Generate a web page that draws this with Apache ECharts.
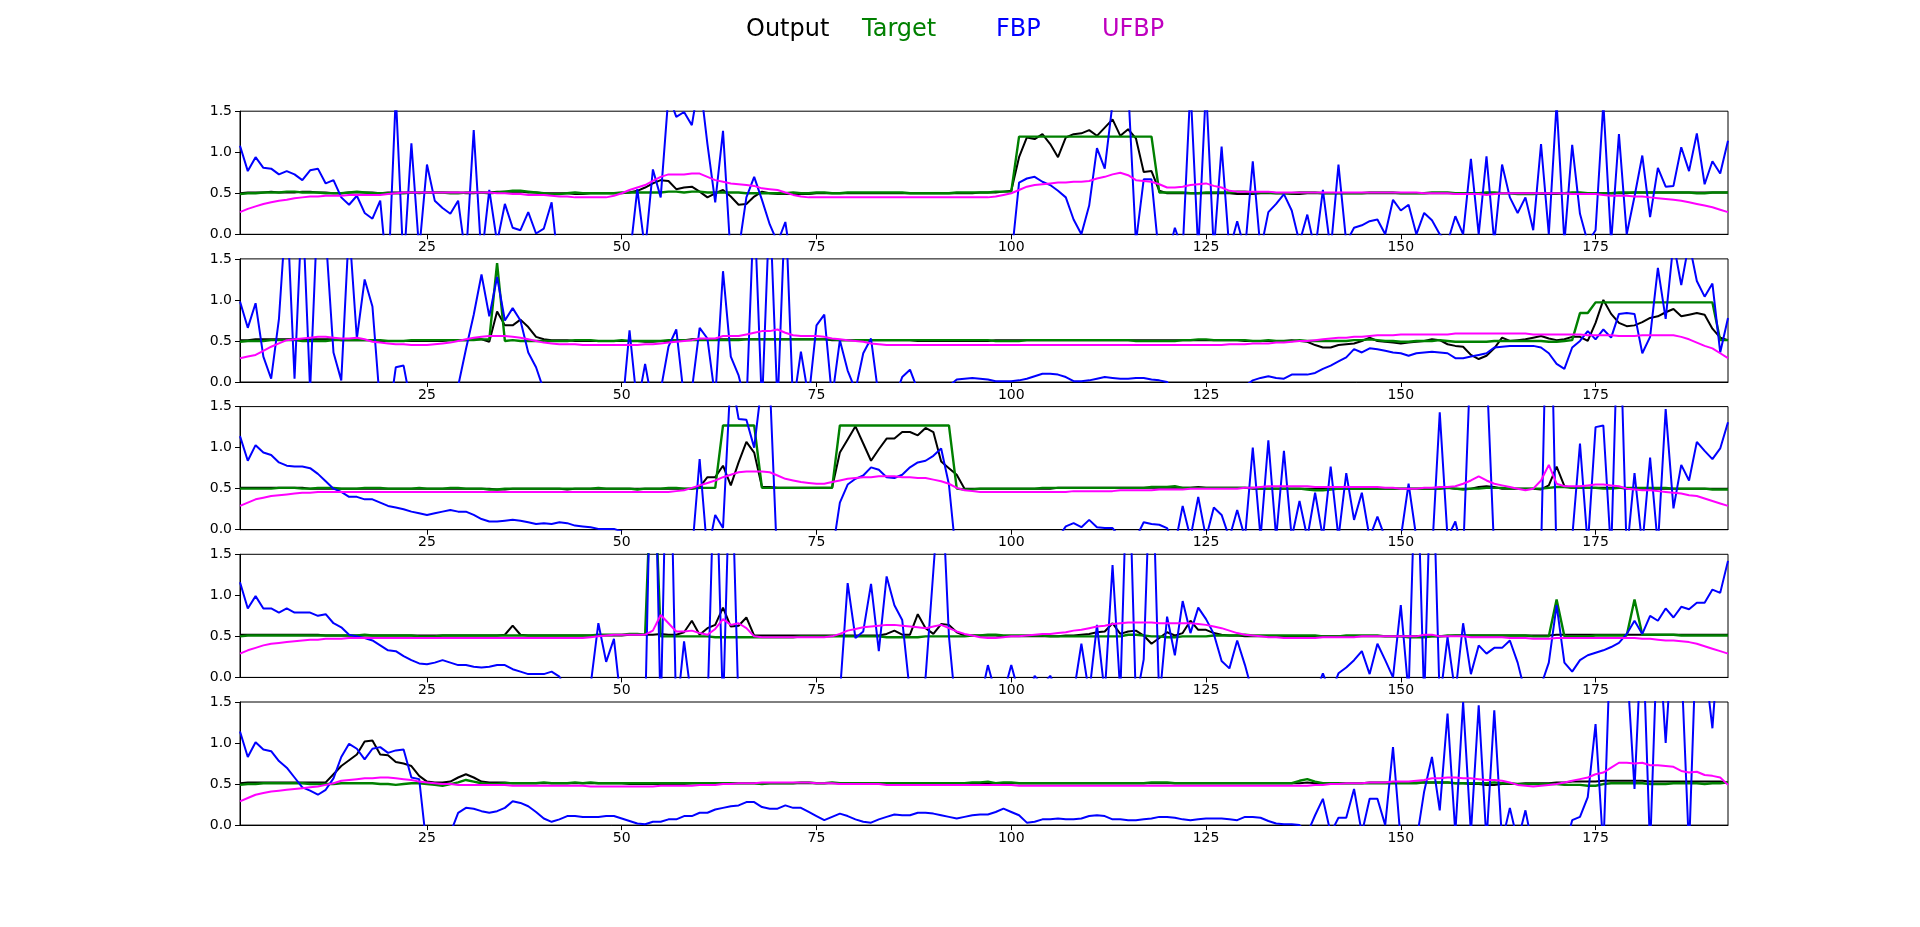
<!DOCTYPE html>
<html>
<head>
<meta charset="utf-8">
<title>Output / Target / FBP / UFBP</title>
<script src="https://cdn.jsdelivr.net/npm/echarts@6/dist/echarts.min.js"></script>
<style>
  html, body { margin: 0; padding: 0; background: #fff; }
  #chart { width: 1920px; height: 927px; }
</style>
</head>
<body>
<div id="chart"></div>
<script>
// x runs 1..192 (one value per sample), y clipped to 0..1.5
const xTicks = [25, 50, 75, 100, 125, 150, 175]
const seriesNames = ['Output', 'Target', 'FBP', 'UFBP']

// ---- panel 1 ----
const out1 = [
  .5,.51,.51,.51,.52,.51,.51,.51,.52,.52,
  .51,.51,.5,.5,.51,.51,.51,.51,.5,.51,
  .51,.51,.51,.5,.51,.51,.51,.51,.51,.5,
  .5,.51,.51,.52,.52,.52,.52,.51,.51,.5,
  .5,.5,.5,.49,.49,.5,.5,.5,.5,.5,
  .51,.53,.57,.62,.66,.65,.55,.57,.58,.52,
  .45,.5,.54,.46,.36,.37,.46,.52,.5,.49,
  .49,.49,.49,.49,.5,.5,.5,.5,.5,.5,
  .5,.5,.5,.5,.5,.5,.5,.5,.5,.5,
  .5,.5,.5,.5,.5,.51,.51,.51,.52,.53,
  .94,1.18,1.16,1.22,1.1,.94,1.18,1.22,1.23,1.27,
  1.2,1.3,1.4,1.2,1.28,1.17,.76,.77,.53,.5,
  .5,.5,.5,.5,.5,.5,.5,.5,.49,.49,
  .49,.5,.5,.5,.5,.49,.49,.5,.5,.5,
  .5,.5,.5,.5,.5,.5,.5,.5,.5,.5,
  .5,.5,.5,.5,.5,.5,.5,.5,.5,.5,
  .5,.5,.5,.5,.5,.5,.5,.49,.49,.49,
  .5,.5,.5,.5,.5,.5,.5,.5,.5,.51,
  .51,.51,.51,.51,.51,.51,.51,.51,.51,.51,
  .51,.51
]
const tgt1 = [
  .49,.5,.5,.51,.51,.51,.52,.52,.51,.51,
  .51,.5,.5,.5,.51,.52,.51,.5,.5,.5,
  .5,.5,.51,.51,.51,.51,.51,.5,.5,.51,
  .51,.51,.5,.51,.52,.53,.53,.52,.51,.5,
  .49,.49,.5,.51,.5,.5,.5,.5,.5,.51,
  .51,.51,.51,.51,.51,.52,.52,.51,.52,.52,
  .51,.51,.51,.51,.51,.5,.5,.5,.5,.5,
  .5,.51,.5,.5,.51,.51,.5,.5,.51,.51,
  .51,.51,.51,.51,.51,.51,.5,.5,.5,.5,
  .5,.5,.51,.51,.51,.51,.51,.52,.52,.52,
  1.19,1.19,1.19,1.19,1.19,1.19,1.19,1.19,1.19,1.19,
  1.19,1.19,1.19,1.19,1.19,1.19,1.19,1.19,.51,.51,
  .51,.51,.5,.5,.51,.51,.51,.51,.52,.52,
  .51,.51,.51,.5,.5,.5,.51,.51,.51,.5,
  .5,.5,.5,.5,.5,.51,.51,.51,.51,.5,
  .5,.5,.5,.51,.51,.51,.5,.5,.5,.5,
  .51,.51,.5,.5,.49,.49,.49,.5,.5,.5,
  .5,.51,.51,.5,.5,.5,.5,.51,.51,.51,
  .51,.51,.51,.51,.51,.51,.51,.5,.5,.51,
  .51,.51
]
const fbp1 = [
  1.08,.77,.94,.81,.8,.73,.77,.73,.66,.78,
  .8,.62,.66,.45,.36,.47,.26,.19,.41,-.6,
  1.7,-.4,1.11,-.2,.85,.41,.32,.25,.41,-.3,
  1.27,-.3,.54,-.1,.37,.08,.05,.27,.01,.07,
  .39,-.5,-.6,-.6,-.6,-.6,-.6,-.6,-.6,-.5,
  -.3,.55,-.2,.79,.45,1.7,1.43,1.49,1.33,1.9,
  1.1,.39,1.26,-.3,-.2,.45,.7,.42,.12,-.1,
  .15,-.5,-.6,-.6,-.6,-.6,-.6,-.6,-.6,-.6,
  -.6,-.6,-.6,-.6,-.6,-.6,-.6,-.6,-.6,-.6,
  -.6,-.6,-.6,-.6,-.6,-.6,-.6,-.5,-.5,-.3,
  .63,.68,.7,.64,.6,.53,.45,.18,0,.35,
  1.05,.8,1.6,1.7,1.8,-.1,.67,.67,-.3,-.3,
  .08,-.2,1.8,-.2,1.8,-.2,1.07,-.2,.16,-.2,
  .89,-.2,.27,.37,.49,.29,-.1,.24,-.2,.54,
  -.2,.85,-.1,.08,.11,.16,.18,0,.42,.29,
  .36,0,.26,.17,0,-.1,.22,0,.92,0,
  .95,-.1,.85,.45,.26,.45,.05,1.1,0,1.6,
  -.1,1.09,.25,-.1,.05,1.6,-.1,1.22,0,.46,
  .96,.21,.81,.58,.59,1.06,.77,1.23,.61,.89,
  .74,1.14
]
const ufbp1 = [
  .27,.31,.34,.37,.39,.41,.42,.44,.45,.46,
  .46,.47,.47,.47,.48,.48,.48,.48,.48,.49,
  .5,.51,.51,.51,.51,.51,.51,.51,.51,.51,
  .51,.51,.51,.5,.5,.49,.49,.48,.48,.48,
  .47,.46,.46,.45,.45,.45,.45,.45,.47,.5,
  .54,.57,.6,.65,.7,.73,.73,.73,.74,.74,
  .7,.66,.64,.62,.61,.6,.59,.56,.55,.54,
  .51,.48,.46,.45,.45,.45,.45,.45,.45,.45,
  .45,.45,.45,.45,.45,.45,.45,.45,.45,.45,
  .45,.45,.45,.45,.45,.45,.45,.46,.48,.5,
  .54,.58,.6,.61,.62,.63,.63,.64,.64,.65,
  .68,.7,.73,.75,.72,.66,.65,.64,.61,.57,
  .57,.58,.6,.61,.62,.59,.57,.53,.52,.52,
  .52,.52,.52,.51,.51,.51,.51,.51,.51,.51,
  .51,.51,.51,.51,.51,.51,.51,.51,.51,.51,
  .51,.51,.5,.5,.5,.5,.49,.49,.49,.49,
  .48,.49,.5,.5,.5,.5,.5,.5,.5,.5,
  .5,.49,.49,.49,.49,.48,.47,.47,.47,.46,
  .46,.45,.44,.43,.42,.41,.39,.37,.35,.33,
  .3,.27
]

// ---- panel 2 ----
const out2 = [
  .51,.51,.52,.52,.52,.52,.52,.52,.52,.52,
  .52,.52,.52,.51,.51,.51,.51,.51,.5,.5,
  .5,.5,.5,.5,.5,.5,.5,.51,.51,.51,
  .52,.52,.49,.86,.69,.69,.76,.67,.55,.52,
  .51,.51,.51,.5,.5,.5,.5,.5,.5,.5,
  .5,.5,.49,.49,.5,.5,.51,.51,.52,.52,
  .52,.52,.52,.52,.52,.52,.52,.52,.52,.52,
  .52,.52,.52,.52,.52,.52,.51,.51,.51,.51,
  .51,.51,.51,.51,.51,.51,.51,.5,.5,.5,
  .5,.5,.5,.5,.5,.5,.5,.51,.51,.51,
  .51,.51,.51,.51,.51,.51,.51,.51,.51,.51,
  .51,.51,.51,.51,.51,.51,.51,.51,.51,.51,
  .51,.51,.51,.51,.51,.51,.51,.51,.51,.5,
  .5,.5,.5,.5,.5,.51,.5,.49,.45,.42,
  .42,.45,.46,.47,.5,.54,.5,.49,.48,.47,
  .48,.49,.5,.52,.51,.46,.44,.43,.33,.28,
  .32,.41,.54,.5,.51,.52,.54,.56,.53,.51,
  .52,.55,.55,.5,.72,1.0,.83,.72,.68,.69,
  .73,.78,.8,.85,.89,.8,.82,.84,.82,.65,
  .54,.51
]
const tgt2 = [
  .49,.5,.5,.5,.51,.51,.51,.51,.5,.5,
  .5,.5,.51,.51,.51,.51,.51,.51,.51,.5,
  .5,.5,.51,.51,.51,.51,.51,.51,.51,.51,
  .51,.52,.52,1.45,.5,.51,.5,.5,.5,.5,
  .5,.5,.5,.51,.51,.51,.5,.5,.5,.51,
  .5,.5,.5,.5,.5,.51,.51,.51,.51,.51,
  .51,.51,.51,.51,.51,.52,.52,.52,.52,.52,
  .52,.52,.52,.52,.52,.52,.52,.51,.51,.51,
  .51,.51,.51,.51,.51,.51,.51,.51,.51,.51,
  .51,.51,.51,.51,.51,.51,.51,.5,.5,.5,
  .5,.51,.51,.51,.51,.51,.51,.51,.51,.51,
  .51,.51,.51,.51,.51,.5,.5,.5,.5,.5,
  .5,.51,.51,.52,.52,.51,.51,.51,.51,.51,
  .5,.5,.51,.5,.5,.5,.51,.5,.5,.5,
  .5,.5,.5,.51,.51,.52,.51,.5,.5,.49,
  .49,.5,.5,.5,.51,.5,.49,.49,.49,.49,
  .49,.5,.5,.5,.5,.5,.5,.5,.49,.49,
  .5,.51,.84,.84,.97,.97,.97,.97,.97,.97,
  .97,.97,.97,.97,.97,.97,.97,.97,.97,.97,
  .51,.51
]
const fbp2 = [
  .98,.66,.96,.31,.04,.77,2.2,.04,2.2,-.1,
  2.2,1.8,.36,.02,1.9,.53,1.25,.92,-.3,-.5,
  .18,.2,-.3,-.6,-.6,-.6,-.6,-.5,-.05,.4,
  .82,1.31,.8,1.28,.75,.9,.75,.36,.18,-.1,
  -.5,-.6,-.6,-.6,-.6,-.6,-.6,-.6,-.6,-.4,
  .63,-.3,.22,-.3,-.1,.43,.64,-.2,-.1,.66,
  .53,-.2,1.35,.31,.08,-.3,2.2,-.3,2.2,-.3,
  2.2,-.3,.37,-.2,.69,.82,-.2,.51,.14,-.1,
  .35,.53,-.2,-.5,-.2,.06,.15,-.1,-.3,-.3,
  -.2,-.05,.03,.04,.05,.04,.03,.01,.01,.01,
  .02,.04,.07,.1,.1,.09,.06,.01,.01,.02,
  .04,.06,.05,.04,.04,.05,.05,.03,.02,0,
  -.2,-.3,-.3,-.3,-.3,-.3,-.3,-.3,-.2,-.05,
  .02,.05,.07,.05,.04,.09,.09,.09,.11,.16,
  .2,.25,.3,.4,.36,.41,.4,.38,.36,.35,
  .32,.35,.36,.37,.36,.35,.29,.29,.31,.33,
  .35,.42,.43,.44,.44,.44,.44,.42,.35,.22,
  .16,.42,.5,.62,.52,.64,.54,.83,.84,.83,
  .35,.55,1.39,.77,1.7,1.18,1.7,1.23,1.04,1.2,
  .36,.78
]
const ufbp2 = [
  .29,.31,.33,.38,.43,.47,.51,.52,.53,.54,
  .55,.55,.54,.53,.53,.54,.52,.49,.48,.47,
  .46,.46,.45,.45,.45,.46,.47,.48,.5,.52,
  .54,.55,.56,.56,.56,.55,.54,.52,.5,.48,
  .47,.46,.46,.46,.45,.45,.45,.45,.45,.45,
  .45,.45,.46,.46,.47,.48,.49,.5,.51,.53,
  .53,.53,.56,.56,.56,.58,.6,.62,.62,.64,
  .6,.57,.56,.56,.56,.55,.53,.52,.51,.5,
  .49,.47,.46,.45,.45,.45,.45,.45,.45,.45,
  .45,.45,.45,.45,.45,.45,.45,.45,.45,.45,
  .45,.45,.45,.45,.45,.45,.45,.45,.45,.45,
  .45,.45,.45,.45,.45,.45,.45,.45,.45,.45,
  .45,.45,.45,.45,.45,.45,.45,.46,.46,.46,
  .47,.47,.47,.48,.48,.49,.5,.5,.51,.52,
  .53,.54,.54,.55,.55,.56,.57,.57,.57,.58,
  .58,.58,.58,.58,.58,.58,.59,.59,.59,.59,
  .59,.59,.59,.59,.59,.59,.58,.58,.58,.58,
  .58,.58,.58,.57,.57,.57,.57,.56,.56,.56,
  .57,.57,.57,.57,.57,.55,.52,.48,.44,.41,
  .35,.29
]

// ---- panel 3 ----
const out3 = [
  .51,.51,.51,.51,.51,.51,.51,.51,.51,.5,
  .5,.5,.5,.5,.5,.5,.5,.5,.5,.5,
  .5,.5,.5,.5,.5,.5,.5,.5,.5,.5,
  .5,.5,.5,.49,.49,.5,.5,.5,.5,.5,
  .5,.5,.49,.5,.5,.5,.5,.5,.5,.5,
  .5,.5,.5,.5,.5,.5,.5,.5,.5,.52,
  .64,.64,.78,.54,.82,1.07,.94,.52,.52,.51,
  .51,.51,.51,.51,.51,.51,.51,.94,1.1,1.26,
  1.05,.84,.98,1.11,1.11,1.19,1.19,1.15,1.24,1.19,
  .83,.75,.67,.5,.5,.5,.5,.5,.5,.5,
  .5,.5,.5,.5,.5,.51,.51,.51,.51,.51,
  .51,.51,.51,.51,.51,.51,.51,.51,.51,.51,
  .51,.51,.51,.52,.51,.51,.51,.51,.51,.51,
  .5,.5,.5,.5,.5,.5,.5,.5,.5,.5,
  .5,.5,.5,.5,.5,.5,.5,.5,.5,.5,
  .5,.5,.5,.5,.5,.51,.5,.5,.5,.52,
  .53,.52,.5,.5,.5,.5,.5,.49,.54,.77,
  .53,.51,.51,.51,.51,.51,.51,.51,.5,.5,
  .5,.5,.5,.5,.5,.5,.5,.5,.5,.5,
  .5,.5
]
const tgt3 = [
  .5,.5,.5,.5,.5,.51,.51,.51,.5,.5,
  .51,.51,.51,.5,.5,.5,.51,.51,.51,.5,
  .5,.5,.5,.51,.5,.5,.5,.51,.51,.5,
  .5,.5,.49,.49,.5,.5,.5,.5,.5,.5,
  .5,.5,.5,.5,.5,.5,.51,.5,.5,.5,
  .5,.49,.5,.5,.5,.51,.51,.5,.5,.51,
  .51,.51,1.27,1.27,1.27,1.27,1.27,.51,.51,.51,
  .51,.51,.51,.51,.51,.51,.51,1.27,1.27,1.27,
  1.27,1.27,1.27,1.27,1.27,1.27,1.27,1.27,1.27,1.27,
  1.27,1.27,.5,.49,.49,.5,.5,.5,.5,.5,
  .5,.5,.5,.51,.51,.51,.51,.51,.51,.51,
  .51,.51,.51,.51,.51,.51,.51,.52,.52,.52,
  .53,.51,.51,.51,.51,.51,.51,.51,.51,.51,
  .51,.5,.5,.5,.5,.5,.5,.49,.48,.48,
  .49,.5,.5,.5,.5,.5,.5,.5,.5,.5,
  .5,.5,.5,.5,.5,.51,.5,.49,.5,.5,
  .51,.51,.51,.5,.5,.5,.5,.5,.51,.52,
  .52,.51,.51,.51,.51,.5,.5,.51,.51,.51,
  .51,.51,.51,.51,.5,.5,.5,.5,.5,.49,
  .49,.49
]
const fbp3 = [
  1.14,.84,1.03,.94,.91,.82,.78,.77,.77,.75,
  .68,.59,.5,.46,.4,.4,.37,.37,.33,.29,
  .27,.25,.22,.2,.18,.2,.22,.24,.22,.22,
  .18,.13,.1,.1,.11,.12,.11,.09,.07,.08,
  .07,.09,.08,.05,.04,.03,.01,.01,.01,-.02,
  -.3,-.5,-.6,-.6,-.6,-.6,-.6,-.5,-.3,.86,
  -.3,.18,.02,1.9,1.35,1.34,1.0,1.8,1.8,-.5,
  -.6,-.6,-.6,-.6,-.6,-.6,-.3,.33,.55,.62,
  .66,.76,.73,.64,.63,.67,.76,.82,.84,.9,
  .99,.55,-.4,-.6,-.6,-.6,-.6,-.6,-.6,-.6,
  -.6,-.6,-.6,-.5,-.2,-.1,.04,.08,.03,.12,
  .03,.02,.02,-.1,-.2,-.1,.09,.07,.06,.02,
  -.2,.29,-.1,.4,-.1,.27,.18,-.1,.24,-.1,
  1.0,-.1,1.09,-.1,.96,-.1,.35,-.1,.45,-.1,
  .77,-.1,.69,.12,.45,-.1,.16,-.1,-.3,-.1,
  .56,-.1,-.4,-.3,1.43,-.1,.1,-.3,2.2,2.4,
  2.0,-.3,-.5,-.5,-.5,-.5,-.5,-.3,4,-.4,
  -.3,-.1,1.05,-.2,1.25,1.27,-.3,3,-.3,.69,
  -.2,.88,-.2,1.47,.26,.79,.6,1.07,.96,.86,
  .99,1.31
]
const ufbp3 = [
  .29,.33,.37,.39,.41,.42,.43,.44,.45,.45,
  .46,.46,.46,.46,.46,.46,.46,.46,.46,.46,
  .46,.46,.46,.46,.46,.46,.46,.46,.46,.46,
  .46,.46,.46,.46,.46,.46,.46,.46,.46,.46,
  .46,.46,.46,.46,.46,.46,.46,.46,.46,.46,
  .46,.46,.46,.46,.46,.46,.47,.48,.51,.54,
  .57,.6,.64,.67,.7,.71,.71,.71,.7,.66,
  .62,.6,.58,.57,.56,.56,.58,.6,.62,.63,
  .64,.64,.65,.65,.65,.64,.64,.63,.63,.61,
  .59,.56,.51,.48,.47,.46,.46,.46,.46,.46,
  .46,.46,.46,.46,.46,.46,.46,.47,.47,.47,
  .47,.47,.47,.48,.48,.48,.48,.48,.49,.49,
  .49,.49,.5,.5,.5,.5,.5,.5,.5,.51,
  .51,.52,.53,.53,.53,.53,.53,.53,.52,.52,
  .52,.52,.52,.52,.52,.52,.52,.51,.51,.5,
  .5,.5,.51,.51,.52,.52,.53,.56,.6,.65,
  .6,.56,.54,.52,.5,.48,.5,.6,.79,.56,
  .53,.53,.53,.54,.55,.55,.54,.53,.5,.49,
  .48,.48,.47,.46,.45,.44,.42,.41,.38,.35,
  .32,.29
]

// ---- panel 4 ----
const out4 = [
  .52,.52,.52,.52,.52,.52,.52,.52,.52,.52,
  .52,.51,.51,.51,.51,.51,.51,.51,.51,.51,
  .51,.51,.51,.51,.51,.51,.51,.51,.51,.51,
  .51,.51,.51,.51,.52,.63,.52,.51,.51,.51,
  .51,.51,.51,.51,.51,.51,.51,.51,.51,.51,
  .52,.52,.52,.52,.53,.52,.52,.55,.69,.52,
  .6,.64,.85,.62,.63,.73,.51,.51,.51,.51,
  .51,.51,.51,.51,.51,.51,.51,.51,.51,.51,
  .51,.51,.51,.53,.57,.52,.52,.77,.6,.53,
  .65,.64,.55,.51,.51,.51,.51,.51,.5,.5,
  .5,.5,.5,.5,.5,.5,.51,.51,.52,.53,
  .55,.56,.66,.53,.56,.57,.51,.41,.48,.55,
  .51,.54,.69,.58,.58,.54,.52,.51,.51,.5,
  .5,.5,.5,.5,.5,.5,.5,.5,.5,.5,
  .5,.5,.5,.5,.5,.5,.5,.5,.5,.5,
  .5,.5,.5,.5,.5,.5,.51,.51,.51,.51,
  .51,.51,.51,.51,.51,.51,.51,.51,.51,.52,
  .52,.52,.52,.52,.52,.52,.52,.52,.52,.52,
  .52,.52,.52,.52,.52,.52,.52,.52,.52,.52,
  .52,.52
]
const tgt4 = [
  .5,.51,.51,.51,.51,.51,.51,.51,.51,.51,
  .51,.51,.51,.51,.51,.51,.52,.51,.51,.51,
  .51,.51,.51,.5,.5,.5,.51,.51,.51,.51,
  .51,.51,.51,.51,.51,.51,.51,.51,.51,.51,
  .51,.51,.51,.51,.51,.51,.52,.52,.52,.52,
  .53,.53,.52,3,.5,.5,.5,.5,.5,.5,
  .5,.49,.49,.49,.49,.49,.49,.49,.49,.49,
  .49,.49,.5,.5,.5,.5,.5,.5,.5,.5,
  .5,.5,.5,.49,.49,.49,.49,.49,.5,.5,
  .5,.5,.5,.5,.51,.51,.52,.52,.51,.51,
  .51,.51,.51,.51,.5,.5,.5,.5,.5,.5,
  .5,.5,.5,.5,.52,.52,.51,.5,.5,.49,
  .49,.5,.5,.5,.5,.51,.51,.51,.51,.52,
  .51,.51,.51,.51,.51,.51,.51,.51,.51,.5,
  .5,.5,.51,.51,.51,.51,.51,.5,.5,.5,
  .49,.49,.49,.5,.5,.51,.51,.51,.51,.51,
  .51,.51,.51,.51,.51,.51,.5,.5,.5,.95,
  .5,.5,.5,.5,.51,.51,.51,.51,.51,.95,
  .52,.52,.52,.52,.52,.51,.51,.51,.51,.51,
  .51,.51
]
const fbp4 = [
  1.16,.84,.99,.84,.84,.79,.84,.79,.79,.79,
  .75,.77,.66,.61,.52,.5,.48,.45,.39,.33,
  .32,.26,.21,.17,.16,.18,.21,.18,.15,.15,
  .13,.12,.13,.15,.15,.1,.07,.04,.04,.04,
  .07,.01,-.2,-.4,-.5,-.1,.66,.19,.47,-.4,
  -.6,-.6,-.5,4,-.5,4,-.5,.44,-.3,-.5,
  -.4,3,-.4,3,-.4,-.6,-.6,-.6,-.6,-.6,
  -.6,-.6,-.6,-.6,-.6,-.6,-.6,-.2,1.15,.48,
  .56,1.14,.32,1.23,.88,.7,-.2,-.5,0,1.3,
  2.6,.5,-.5,-.5,-.5,-.3,.15,-.2,-.2,.15,
  -.2,-.3,.02,-.1,.02,-.2,-.1,-.2,.41,-.2,
  .64,-.2,1.37,-.2,3,-.3,.22,3,-.3,.74,
  .27,.93,.54,.85,.71,.53,.2,.11,.45,.15,
  -.2,-.5,-.5,-.5,-.5,-.5,-.5,-.5,-.2,.05,
  -.2,.05,.12,.21,.32,.04,.41,.21,0,.88,
  -.2,3,-.3,3,-.3,.49,-.2,.66,.04,.39,
  .29,.36,.36,.45,.18,-.2,-.3,-.1,.18,.88,
  .18,.07,.21,.27,.3,.33,.37,.42,.53,.69,
  .53,.75,.69,.84,.73,.86,.83,.91,.91,1.07,
  1.03,1.42
]
const ufbp4 = [
  .29,.33,.36,.39,.41,.42,.43,.44,.45,.46,
  .46,.47,.47,.47,.48,.48,.48,.48,.48,.48,
  .48,.48,.48,.48,.48,.48,.48,.48,.48,.48,
  .48,.48,.48,.48,.48,.48,.48,.48,.48,.48,
  .48,.48,.48,.48,.48,.49,.5,.51,.52,.52,
  .52,.52,.52,.57,.76,.66,.56,.56,.57,.54,
  .52,.59,.71,.64,.66,.6,.5,.49,.49,.49,
  .49,.49,.49,.49,.49,.49,.5,.53,.57,.59,
  .61,.62,.63,.64,.64,.63,.62,.61,.6,.62,
  .64,.6,.56,.53,.51,.49,.48,.48,.49,.5,
  .5,.51,.52,.53,.53,.54,.55,.57,.58,.6,
  .62,.63,.65,.66,.67,.67,.67,.67,.66,.66,
  .66,.66,.66,.65,.64,.62,.6,.57,.54,.52,
  .51,.5,.49,.49,.48,.48,.48,.48,.48,.49,
  .49,.49,.49,.49,.5,.5,.5,.5,.5,.5,
  .5,.5,.52,.52,.5,.5,.5,.5,.49,.49,
  .49,.49,.49,.48,.48,.48,.47,.47,.47,.48,
  .48,.48,.48,.48,.48,.48,.48,.48,.48,.48,
  .47,.47,.46,.45,.45,.44,.43,.41,.38,.35,
  .32,.29
]

// ---- panel 5 ----
const out5 = [
  .51,.52,.52,.52,.52,.52,.52,.52,.52,.52,
  .52,.52,.62,.72,.79,.86,1.02,1.03,.86,.85,
  .77,.75,.72,.6,.53,.52,.52,.53,.58,.62,
  .58,.53,.52,.52,.52,.51,.51,.51,.51,.51,
  .51,.51,.51,.51,.51,.51,.51,.51,.51,.51,
  .5,.5,.5,.5,.5,.5,.5,.5,.51,.51,
  .51,.51,.51,.51,.51,.51,.51,.51,.51,.51,
  .51,.51,.51,.51,.51,.51,.51,.51,.51,.51,
  .51,.51,.51,.51,.51,.51,.51,.51,.51,.51,
  .51,.51,.51,.51,.51,.51,.51,.51,.51,.51,
  .51,.51,.51,.51,.51,.51,.51,.51,.51,.51,
  .51,.51,.51,.51,.51,.51,.51,.51,.51,.51,
  .51,.51,.51,.51,.51,.51,.51,.51,.51,.51,
  .51,.51,.51,.51,.51,.51,.51,.52,.51,.51,
  .51,.51,.51,.51,.51,.52,.52,.52,.52,.52,
  .52,.52,.52,.52,.52,.52,.51,.51,.5,.5,
  .49,.49,.5,.5,.5,.51,.51,.51,.51,.52,
  .52,.53,.53,.53,.53,.54,.54,.54,.54,.54,
  .54,.53,.53,.53,.53,.53,.53,.53,.53,.53,
  .53,.52
]
const tgt5 = [
  .49,.5,.5,.51,.51,.51,.51,.51,.51,.5,
  .5,.5,.5,.51,.51,.51,.51,.51,.5,.5,
  .49,.5,.51,.51,.5,.49,.48,.5,.52,.55,
  .53,.51,.5,.5,.51,.51,.51,.51,.51,.52,
  .51,.51,.51,.52,.51,.52,.51,.51,.51,.51,
  .51,.51,.51,.51,.51,.51,.51,.51,.51,.51,
  .51,.51,.51,.51,.51,.51,.51,.5,.51,.51,
  .51,.51,.52,.52,.51,.51,.52,.51,.51,.51,
  .51,.51,.51,.51,.51,.51,.51,.51,.51,.51,
  .51,.51,.51,.51,.52,.52,.53,.51,.52,.52,
  .51,.51,.51,.51,.51,.51,.51,.51,.51,.51,
  .51,.51,.51,.51,.51,.51,.51,.52,.52,.52,
  .51,.51,.51,.51,.51,.51,.51,.51,.51,.51,
  .51,.51,.51,.51,.51,.51,.54,.56,.53,.51,
  .51,.51,.51,.51,.51,.51,.51,.51,.51,.51,
  .51,.51,.52,.52,.52,.52,.51,.51,.51,.51,
  .51,.52,.51,.51,.5,.5,.5,.5,.5,.5,
  .49,.49,.49,.48,.48,.5,.51,.51,.51,.51,
  .51,.5,.5,.5,.51,.51,.51,.51,.5,.51,
  .51,.52
]
const fbp5 = [
  1.14,.83,1.01,.92,.9,.78,.7,.58,.46,.42,
  .37,.43,.57,.83,.99,.93,.8,.93,.95,.88,
  .91,.92,.58,.56,-.3,-.5,-.5,-.1,.15,.21,
  .2,.17,.15,.17,.21,.29,.27,.23,.16,.08,
  .04,.07,.11,.11,.1,.1,.1,.11,.11,.08,
  .05,.02,.01,.04,.04,.07,.07,.11,.11,.15,
  .15,.19,.21,.23,.24,.28,.28,.22,.2,.2,
  .24,.21,.21,.16,.11,.06,.1,.14,.11,.07,
  .04,.03,.07,.1,.13,.12,.12,.15,.15,.14,
  .12,.1,.08,.1,.12,.13,.13,.16,.2,.16,
  .12,.03,.04,.07,.07,.08,.07,.07,.08,.11,
  .12,.11,.07,.07,.06,.06,.07,.08,.1,.1,
  .09,.07,.06,.07,.08,.08,.08,.07,.06,.1,
  .1,.09,.05,.02,.01,.01,0,-.1,.12,.32,
  -.1,.09,.09,.44,-.1,.32,.32,0,.95,-.2,
  -.4,-.2,.41,.83,.18,1.36,-.1,1.5,-.1,1.46,
  -.2,1.4,-.2,.21,-.2,.18,-.3,-.5,-.5,-.5,
  -.3,.06,.1,.34,1.23,-.3,2.5,2.5,2.0,.44,
  2.5,-.3,2.5,1.0,2.5,2.0,-.3,2.5,2.0,1.18,
  2.5,2.5
]
const ufbp5 = [
  .29,.33,.37,.39,.41,.42,.43,.44,.45,.46,
  .47,.49,.51,.54,.55,.56,.57,.57,.58,.58,
  .57,.56,.55,.53,.52,.51,.5,.5,.49,.49,
  .49,.49,.49,.49,.49,.48,.48,.48,.48,.48,
  .48,.48,.48,.48,.48,.47,.47,.47,.47,.47,
  .47,.47,.47,.47,.48,.48,.48,.48,.48,.49,
  .49,.49,.5,.5,.51,.51,.51,.52,.52,.52,
  .52,.52,.52,.52,.51,.51,.51,.5,.5,.5,
  .5,.5,.5,.49,.49,.49,.49,.49,.49,.49,
  .49,.49,.49,.49,.49,.49,.49,.49,.49,.49,
  .48,.48,.48,.48,.48,.48,.48,.48,.48,.48,
  .48,.48,.48,.48,.48,.48,.48,.48,.48,.48,
  .48,.48,.48,.48,.48,.48,.48,.48,.48,.48,
  .48,.48,.48,.48,.48,.48,.48,.48,.49,.49,
  .5,.5,.51,.51,.51,.52,.52,.52,.53,.53,
  .53,.54,.55,.57,.57,.58,.58,.57,.57,.56,
  .55,.55,.54,.52,.49,.48,.47,.48,.49,.5,
  .52,.54,.56,.58,.62,.64,.7,.76,.76,.75,
  .76,.73,.73,.72,.71,.66,.64,.65,.61,.6,
  .58,.49
]

const panels = [
  [out1, tgt1, fbp1, ufbp1],
  [out2, tgt2, fbp2, ufbp2],
  [out3, tgt3, fbp3, ufbp3],
  [out4, tgt4, fbp4, ufbp4],
  [out5, tgt5, fbp5, ufbp5]
]
panels.forEach((p, i) => p.forEach((arr, k) => {
  if (arr.length !== 192) throw new Error('panel ' + (i + 1) + ' ' + seriesNames[k] + ' has ' + arr.length)
}))

const lineColors = ['#000000', '#008000', '#0000ff', '#ff00ff']
const legendColors = ['#000000', '#008000', '#0000ff', '#bf00bf']
const lineWidths = [2, 2.4, 2, 2]
const legendLeft = [735, 851, 985, 1091]

// five stacked axes, same spacing as a 5x1 subplot grid
const plotTop = 111.2
const plotH = 123.1
const plotStep = 147.7
const font = 'DejaVu Sans'

const chart = echarts.init(document.getElementById('chart'))

const grids = panels.map((p, i) => ({
  left: 240,
  width: 1488,
  top: plotTop + i * plotStep,
  height: plotH,
  show: true,
  borderColor: '#000',
  borderWidth: 1,
  backgroundColor: 'transparent'
}))

const xAxes = panels.map((p, i) => ({
  type: 'value',
  gridIndex: i,
  min: 1,
  max: 192,
  axisLine: { show: true, onZero: false, lineStyle: { color: '#000', width: 1 } },
  axisTick: { show: true, length: 5, customValues: xTicks, lineStyle: { color: '#000', width: 1 } },
  axisLabel: { customValues: xTicks, margin: 6, fontSize: 14, color: '#000', fontFamily: font },
  splitLine: { show: false }
}))

const yAxes = panels.map((p, i) => ({
  type: 'value',
  gridIndex: i,
  min: 0,
  max: 1.5,
  interval: 0.5,
  axisLine: { show: true, onZero: false, lineStyle: { color: '#000', width: 1 } },
  axisTick: { show: true, length: 5, lineStyle: { color: '#000', width: 1 } },
  axisLabel: {
    margin: 8,
    fontSize: 14,
    color: '#000',
    fontFamily: font,
    formatter: (v) => v.toFixed(1)
  },
  splitLine: { show: false }
}))

const series = []
panels.forEach((p, i) => {
  p.forEach((arr, k) => {
    series.push({
      name: seriesNames[k],
      type: 'line',
      xAxisIndex: i,
      yAxisIndex: i,
      data: arr.map((v, j) => [j + 1, v]),
      symbol: 'none',
      showSymbol: false,
      clip: true,
      z: 2 + k,
      lineStyle: { color: lineColors[k], width: lineWidths[k] },
      itemStyle: { color: lineColors[k] },
      emphasis: { disabled: true }
    })
  })
})

const legends = seriesNames.map((name, k) => ({
  data: [name],
  left: legendLeft[k],
  top: 13,
  itemWidth: 0,
  itemHeight: 0,
  selectedMode: false,
  textStyle: { color: legendColors[k], fontSize: 24, fontFamily: font }
}))

chart.setOption({
  animation: false,
  backgroundColor: '#ffffff',
  legend: legends,
  grid: grids,
  xAxis: xAxes,
  yAxis: yAxes,
  series: series
})
</script>
</body>
</html>
